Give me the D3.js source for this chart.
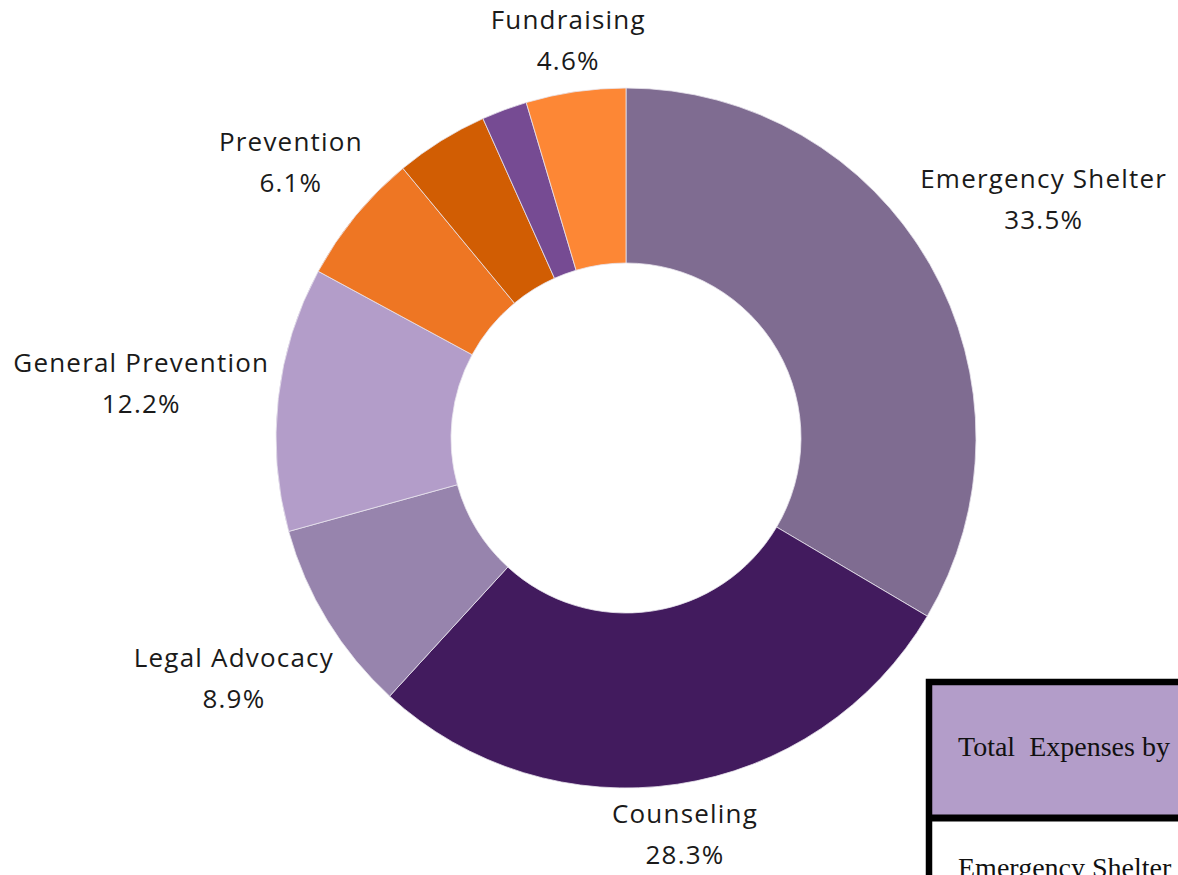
<!DOCTYPE html>
<html>
<head>
<meta charset="utf-8">
<script src="https://cdn.jsdelivr.net/npm/d3@7"></script>
<style>
  html, body { margin: 0; padding: 0; background: #fff; overflow: hidden; }
  svg { display: block; }
</style>
</head>
<body>
<svg id="chart" width="1178" height="875"></svg>
<script>
// expenses by program, clockwise from 12 o'clock
const categories = ["Emergency Shelter", "Counseling", "Legal Advocacy", "General Prevention",
                    "Prevention", "Administration", "Other", "Fundraising"];
const shares = [33.5, 28.3, 8.9, 12.2, 6.1, 4.3, 2.1, 4.6];
const labelled = ["Emergency Shelter", "Counseling", "Legal Advocacy", "General Prevention",
                  "Prevention", "Fundraising"];
const colors = ["#7f6c91", "#421b5e", "#9784ad", "#b39dc9", "#ee7623", "#d15d03", "#764b93", "#fd8735"];

// table cut by the right / bottom edge of the picture
const tableTitle = "Total  Expenses by";
const tableRows = ["Emergency Shelter"];

const cx = 626, cy = 438, outerR = 350, innerR = 175;

let svg = d3.select('#chart');

let color = d3.scaleOrdinal().domain(categories).range(colors);
let data = categories.map((c, i) => ({ name: c, value: shares[i] }));

let pie = d3.pie().sort(null).value(d => d.value);
let arc = d3.arc().innerRadius(innerR).outerRadius(outerR);
let arcs = pie(data);

let g = svg.append('g').attr('transform', `translate(${cx},${cy})`);

g.selectAll('path.slice')
    .data(arcs)
    .enter()
    .append('path')
    .attr('class', 'slice')
    .attr('d', arc)
    .attr('fill', d => color(d.data.name))
    .attr('stroke', '#e9e4ee')
    .attr('stroke-width', 0.8);

// labels: pushed out along the mid angle so the text box clears the ring
const labelBase = 357, lineGap = 41, fontPx = 26;
let lab = g.selectAll('g.label')
    .data(arcs.filter(d => labelled.includes(d.data.name)))
    .enter()
    .append('g')
    .attr('class', 'label');

lab.append('text')
    .attr('text-anchor', 'middle')
    .attr('y', -lineGap / 2)
    .attr('dy', '0.35em')
    .text(d => d.data.name);
lab.append('text')
    .attr('text-anchor', 'middle')
    .attr('y', lineGap / 2)
    .attr('dy', '0.35em')
    .text(d => d.data.value.toFixed(1) + '%');

lab.selectAll('text')
    .attr('font-family', '"Open Sans", "Noto Sans", sans-serif')
    .attr('font-size', fontPx)
    .attr('letter-spacing', 1.2)
    .attr('fill', '#1a1a1a');

lab.attr('transform', function (d) {
    let a = (d.startAngle + d.endAngle) / 2;
    let s = Math.sin(a), c = Math.cos(a);
    let bb = this.getBBox();
    let r = labelBase + Math.abs(s) * bb.width / 2 + Math.abs(c) * (lineGap + fontPx) / 2;
    return `translate(${r * s},${-r * c})`;
});

// partial table in the lower right corner
let tb = svg.append('g');
const tx = 929, ty = 682, headH = 136;
tb.append('rect')
    .attr('x', tx).attr('y', ty)
    .attr('width', 400).attr('height', headH)
    .attr('fill', '#b39dc9');
tb.append('rect')
    .attr('x', tx).attr('y', ty)
    .attr('width', 400).attr('height', 300)
    .attr('fill', 'none')
    .attr('stroke', '#000')
    .attr('stroke-width', 6.5);
tb.append('line')
    .attr('x1', tx).attr('x2', tx + 400)
    .attr('y1', ty + headH).attr('y2', ty + headH)
    .attr('stroke', '#000')
    .attr('stroke-width', 7);

tb.append('text')
    .attr('x', 958).attr('y', 756)
    .attr('font-family', '"Liberation Serif", "DejaVu Serif", serif')
    .attr('font-size', 28)
    .attr('fill', '#111')
    .style('white-space', 'pre')
    .text(tableTitle);

tb.selectAll('text.row')
    .data(tableRows)
    .enter()
    .append('text')
    .attr('class', 'row')
    .attr('x', 958)
    .attr('y', (d, i) => 877 + i * 60)
    .attr('font-family', '"Liberation Serif", "DejaVu Serif", serif')
    .attr('font-size', 28)
    .attr('fill', '#111')
    .text(d => d);
</script>
</body>
</html>
